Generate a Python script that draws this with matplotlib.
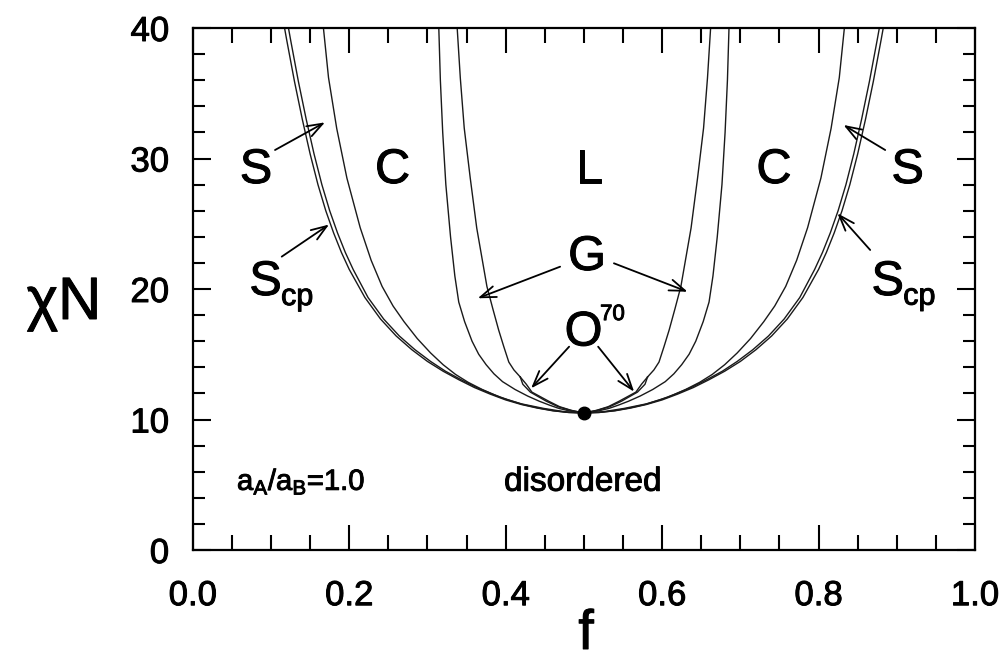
import numpy as np
import matplotlib
matplotlib.use("Agg")
import matplotlib.pyplot as plt
import matplotlib.patheffects as pe
from matplotlib.ticker import MultipleLocator, FormatStrFormatter

plt.rcParams['font.family'] = ['Liberation Sans', 'DejaVu Sans']
plt.rcParams['mathtext.fontset'] = 'custom'
plt.rcParams['mathtext.rm'] = 'Liberation Sans'
plt.rcParams['mathtext.it'] = 'Liberation Sans'

# ---- phase boundaries, left half (f < 0.5); right half is the mirror f -> 1 - f
# disordered / S_cp (order-disorder transition)
odt_f   = [0.117, 0.120, 0.130, 0.140, 0.150, 0.160, 0.170, 0.180, 0.190, 0.200, 0.220,
           0.240, 0.260, 0.280, 0.300, 0.320, 0.340, 0.360, 0.380, 0.400, 0.420, 0.440,
           0.460, 0.480, 0.500]
odt_chi = [40.1, 39.1, 35.9, 33.0, 30.35, 28.0, 26.0, 24.3, 22.8, 21.5, 19.35,
           17.7, 16.4, 15.35, 14.45, 13.7, 13.05, 12.45, 11.95, 11.5, 11.15, 10.88,
           10.67, 10.54, 10.5]
# S_cp / S (just inside the ODT)
scp_f   = [0.122, 0.125, 0.135, 0.145, 0.155, 0.165, 0.175, 0.185, 0.195, 0.205, 0.224,
           0.244, 0.264, 0.284, 0.304, 0.323, 0.343, 0.363, 0.383, 0.403, 0.422, 0.442,
           0.4615, 0.481, 0.500]
scp_chi = odt_chi
# S / C
sc_f   = [0.167, 0.1735, 0.184, 0.197, 0.214, 0.228, 0.242, 0.256, 0.270, 0.287, 0.304,
          0.320, 0.336, 0.352, 0.370, 0.393, 0.420, 0.4485, 0.475, 0.500]
sc_chi = [40.0, 36.2, 32.3, 28.5, 24.7, 22.2, 20.2, 18.7, 17.5, 16.2, 15.1,
          14.2, 13.45, 12.85, 12.3, 11.7, 11.2, 10.85, 10.6, 10.5]
# C / G (continuing as C / O70 near the bottom)
cg_chi = [40, 36, 32, 28, 24, 21, 19, 17.5, 16, 15, 14.2, 13.5, 12.9, 12.3, 11.8,
          11.4, 11.1, 10.85, 10.65, 10.5]
cg_f   = [0.3145, 0.3165, 0.3195, 0.3235, 0.3295, 0.335, 0.340, 0.3475, 0.357, 0.3655,
          0.375, 0.385, 0.396, 0.412, 0.428, 0.443, 0.456, 0.468, 0.482, 0.500]
# G / L (upper part)
gl_chi = [40, 36.17, 32.34, 28.5, 24.67, 20.2, 18.5, 16.86, 15.6, 14.4, 13.8, 13.26]
gl_f   = [0.338, 0.342, 0.347, 0.3547, 0.363, 0.376, 0.3835, 0.391, 0.3975, 0.404, 0.4105, 0.4186]
# narrow O70 window: two branches below the split of the G / L line
go_chi = [13.26, 12.7, 12.1, 11.4, 10.98, 10.7, 10.5]
go_f   = [0.4186, 0.4219, 0.4315, 0.452, 0.467, 0.483, 0.500]
ol_chi = [13.26, 12.7, 12.1, 11.4, 10.98, 10.7, 10.5]
ol_f   = [0.4186, 0.4264, 0.4335, 0.455, 0.469, 0.484, 0.500]

crit_f, crit_chi = 0.5, 10.5

x_ticks = [0.0, 0.2, 0.4, 0.6, 0.8, 1.0]
y_ticks = [0, 10, 20, 30, 40]

boundaries = [(odt_f, odt_chi), (scp_f, scp_chi), (sc_f, sc_chi),
              (cg_f, cg_chi), (gl_f, gl_chi), (go_f, go_chi), (ol_f, ol_chi)]

W, H = 1003, 662
fig = plt.figure(figsize=(W / 100, H / 100), dpi=100)
L, R, T, B = 192.8, 975, 28, 550
ax = fig.add_axes([L / W, 1 - B / H, (R - L) / W, (B - T) / H])

lc = '#1a1a1a'
for fs, cs in boundaries:
    fa = np.array(fs)
    ax.plot(fa, cs, color=lc, lw=1.0, solid_joinstyle='round')
    ax.plot(1 - fa, cs, color=lc, lw=1.0, solid_joinstyle='round')

ax.plot([crit_f], [crit_chi], 'o', color='k', ms=9, zorder=5)

ax.set_xlim(0, 1)
ax.set_ylim(0, 40)
ax.set_xticks(x_ticks)
ax.set_yticks(y_ticks)
ax.xaxis.set_minor_locator(MultipleLocator(0.05))
ax.yaxis.set_minor_locator(MultipleLocator(2))
ax.xaxis.set_major_formatter(FormatStrFormatter('%.1f'))
ax.yaxis.set_major_formatter(FormatStrFormatter('%d'))
ax.tick_params(axis='both', which='both', direction='in', top=True, right=True,
               width=1.5, colors='k', labelsize=25)
ax.tick_params(axis='x', which='major', length=18, pad=21)
ax.tick_params(axis='x', which='minor', length=11)
ax.tick_params(axis='y', which='major', length=13, pad=17)
ax.tick_params(axis='y', which='minor', length=8.5)
for s in ax.spines.values():
    s.set_linewidth(1.6)

heavy = [pe.withStroke(linewidth=0.7, foreground='k')]
for lab in ax.get_xticklabels() + ax.get_yticklabels():
    lab.set_path_effects(heavy)

def put(x, y, s, size, ha='center'):
    ax.text(x, y, s, fontsize=size, ha=ha, va='baseline', path_effects=heavy)

# region labels
big = 35
for f, lab in [(0.0808, 'S'), (0.2554, 'C'), (0.5066, 'L'), (0.743, 'C'), (0.9139, 'S')]:
    put(f, 28.12, lab, big)
put(0.5041, 21.46, 'G', big)
put(0.4996, 15.67, 'O', big)
put(0.5207, 17.62, '70', 16, ha='left')
put(0.093, 19.54, 'S', big)
put(0.1128, 18.77, 'cp', 22, ha='left')
put(0.8884, 19.54, 'S', big)
put(0.9082, 18.8, 'cp', 22, ha='left')
put(0.0565, 4.6, r'a$_\mathregular{A}$/a$_\mathregular{B}$=1.0', 21, ha='left')
put(0.4985, 4.54, 'disordered', 24)

# arrows: (tip, start)
arrows = [((0.169, 32.77), (0.1051, 30.65)),
          ((0.1742, 24.94), (0.1137, 22.48)),
          ((0.3643, 19.29), (0.4696, 21.71)),
          ((0.6326, 19.79), (0.5384, 21.97)),
          ((0.4325, 12.39), (0.4811, 15.58)),
          ((0.5642, 12.13), (0.5182, 15.58)),
          ((0.8319, 32.57), (0.8852, 30.65)),
          ((0.8242, 25.80), (0.866, 22.99))]
for tip, start in arrows:
    ax.annotate('', xy=tip, xytext=start,
                arrowprops=dict(arrowstyle='->,head_length=0.75,head_width=0.27',
                                lw=1.3, color='k', mutation_scale=15,
                                shrinkA=0, shrinkB=0))

fig.text(64 / W, 1 - 319 / H, 'χN', fontsize=43, ha='center', va='baseline',
         path_effects=heavy)
fig.text(586 / W, 1 / H, 'f', fontsize=40, ha='center', va='bottom',
         path_effects=heavy)

fig.savefig('out.png', dpi=100)
